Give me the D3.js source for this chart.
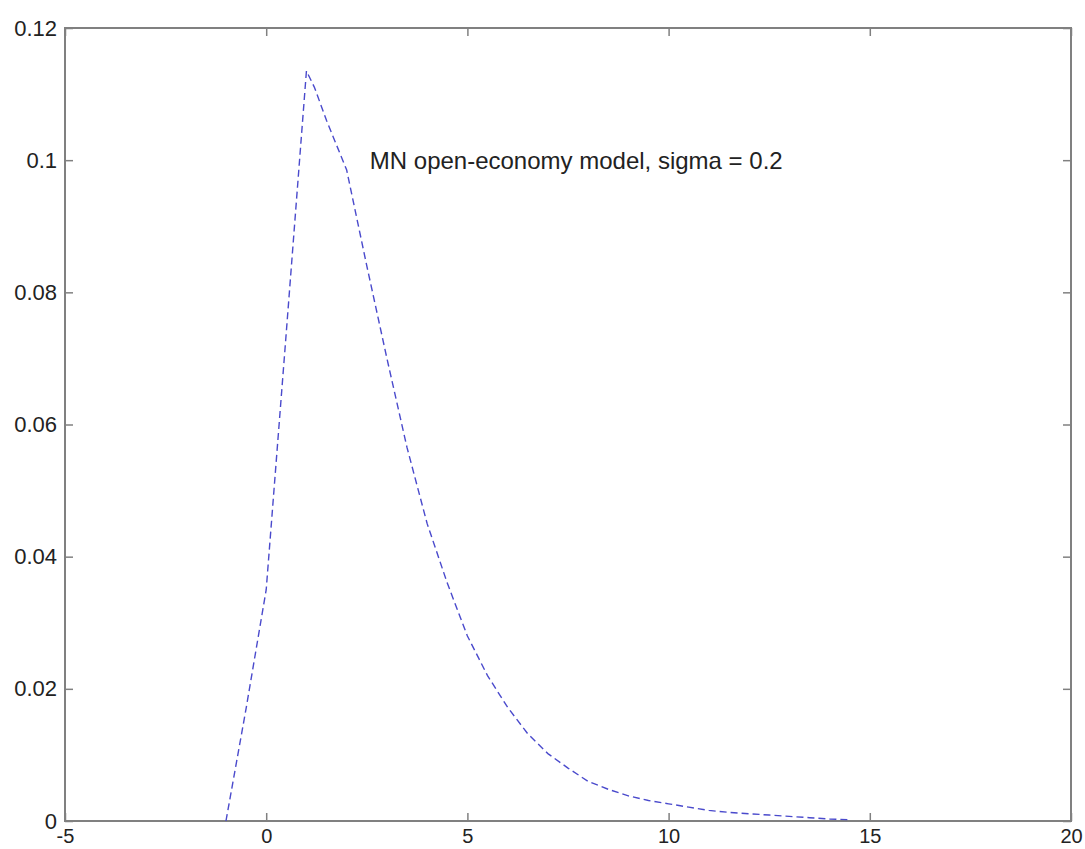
<!DOCTYPE html>
<html>
<head>
<meta charset="utf-8">
<script src="https://cdn.jsdelivr.net/npm/d3@7"></script>
<style>
  body { margin: 0; background: #fff; }
  svg text { font-family: "Liberation Sans", Arial, sans-serif; fill: #222; }
</style>
</head>
<body>
<svg id="chart" width="1085" height="849"></svg>
<script>
// density curve
const xs = [-1, -0.5, 0, 0.5, 1, 1.2, 1.5, 2, 2.5, 3, 3.5, 4, 4.5, 5, 5.5, 6, 6.5, 7, 7.5, 8,
            8.5, 9, 9.5, 10, 10.5, 11, 11.5, 12, 12.5, 13, 13.5, 14, 14.5];
const ys = [0, 0.017, 0.035, 0.074, 0.1135, 0.111, 0.106, 0.0985, 0.084, 0.070, 0.0565, 0.045, 0.036, 0.028, 0.022, 0.0172,
            0.0132, 0.0102, 0.0080, 0.0060, 0.0048, 0.0038, 0.0031, 0.0026, 0.0021, 0.0016, 0.0013, 0.0011, 0.0009,
            0.0007, 0.0005, 0.0003, 0.0002];
const xTicks = [-5, 0, 5, 10, 15, 20];
const yTicks = [0, 0.02, 0.04, 0.06, 0.08, 0.1, 0.12];
const note = { x: 2.5, y: 0.1, text: "MN open-economy model, sigma = 0.2" };

const margin = { left: 65, right: 14, top: 28, bottom: 28 };
const W = 1085, H = 849;

var svg = d3.select('#chart');
var x = d3.scaleLinear().domain([-5, 20]).range([margin.left, W - margin.right]);
var y = d3.scaleLinear().domain([0, 0.12]).range([H - margin.bottom, margin.top]);

const axisColor = '#808080';
const tickLen = 8;
var fmt = d => d === 0 ? '0' : String(+d.toFixed(2));

// matlab style box: ticks inward on all four sides
function styleAxis(g, size) {
  g.select('.domain').remove();
  g.selectAll('.tick line').attr('stroke', axisColor).attr('stroke-width', 1.5);
  g.selectAll('.tick text').style('font-size', (size || 22) + 'px').attr('fill', '#222');
}

svg.append('g')
  .attr('transform', 'translate(0,' + y(0) + ')')
  .call(d3.axisBottom(x).tickValues(xTicks).tickFormat(fmt).tickSizeInner(-tickLen).tickPadding(8))
  .call(styleAxis, 20);
svg.append('g')
  .attr('transform', 'translate(0,' + y(0.12) + ')')
  .call(d3.axisTop(x).tickValues(xTicks).tickFormat('').tickSizeInner(-tickLen))
  .call(styleAxis);
svg.append('g')
  .attr('transform', 'translate(' + x(-5) + ',0)')
  .call(d3.axisLeft(y).tickValues(yTicks).tickFormat(fmt).tickSizeInner(-tickLen).tickPadding(8))
  .call(styleAxis);
svg.append('g')
  .attr('transform', 'translate(' + x(20) + ',0)')
  .call(d3.axisRight(y).tickValues(yTicks).tickFormat('').tickSizeInner(-tickLen))
  .call(styleAxis);

svg.append('rect')
  .attr('x', x(-5)).attr('y', y(0.12))
  .attr('width', x(20) - x(-5)).attr('height', y(0) - y(0.12))
  .attr('fill', 'none').attr('stroke', axisColor).attr('stroke-width', 2);

var line = d3.line().x(d => x(d[0])).y(d => y(d[1]));
svg.append('path')
  .datum(xs.map((v, i) => [v, ys[i]]))
  .attr('d', line)
  .attr('fill', 'none')
  .attr('stroke', '#4a4acc')
  .attr('stroke-width', 1.4)
  .attr('stroke-dasharray', '7,4');

svg.append('text')
  .attr('x', x(note.x) + 3)
  .attr('y', y(note.y))
  .attr('dy', '0.35em')
  .style('font-size', '24px')
  .text(note.text);
</script>
</body>
</html>
